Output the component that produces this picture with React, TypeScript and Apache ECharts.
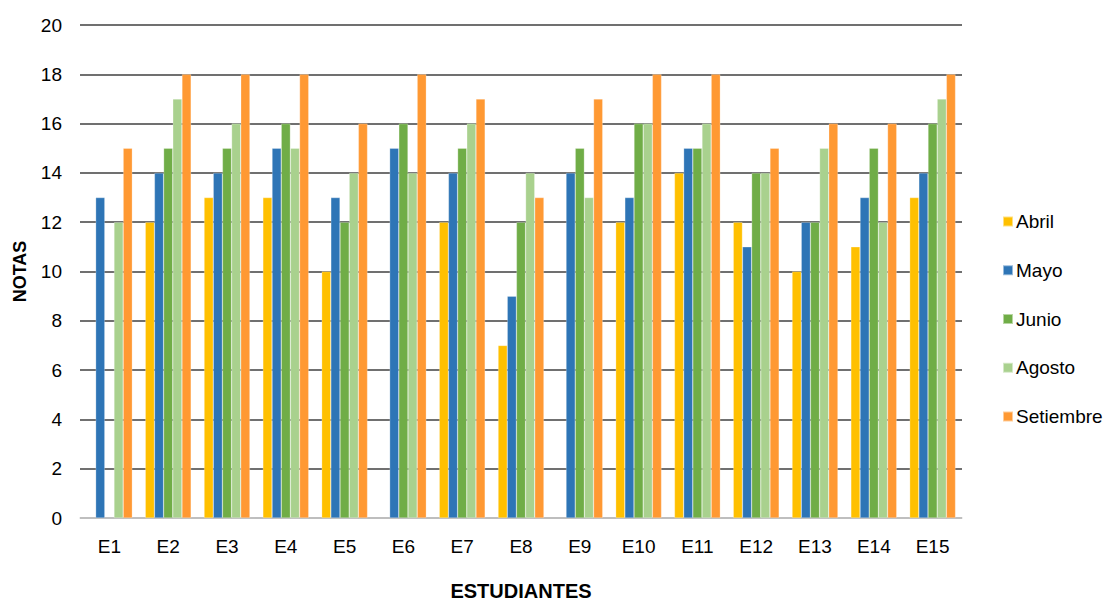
import React, { useEffect, useRef } from "react";
import * as echarts from "echarts";

const categories = ["E1", "E2", "E3", "E4", "E5", "E6", "E7", "E8", "E9", "E10", "E11", "E12", "E13", "E14", "E15"];
const abril = [null, 12, 13, 13, 10, null, 12, 7, null, 12, 14, 12, 10, 11, 13];
const mayo = [13, 14, 14, 15, 13, 15, 14, 9, 14, 13, 15, 11, 12, 13, 14];
const junio = [null, 15, 15, 16, 12, 16, 15, 12, 15, 16, 15, 14, 12, 15, 16];
const agosto = [12, 17, 16, 15, 14, 14, 16, 14, 13, 16, 16, 14, 15, 12, 17];
const setiembre = [15, 18, 18, 18, 16, 18, 17, 13, 17, 18, 18, 15, 16, 16, 18];
const seriesNames = ["Abril", "Mayo", "Junio", "Agosto", "Setiembre"];
const seriesColors = ["#FFC000", "#2E75B6", "#70AD47", "#A9D18E", "#FF9933"];

export default function App() {
  const ref = useRef<HTMLDivElement>(null);
  useEffect(() => {
    if (!ref.current) return;
    const chart = echarts.init(ref.current, undefined, { renderer: "svg" });
    const data = [abril, mayo, junio, agosto, setiembre];
    const font = "Liberation Sans, Arial, sans-serif";
    chart.setOption({
      animation: false,
      textStyle: { fontFamily: font },
      grid: { left: 80, right: 144, top: 25, bottom: 85, containLabel: false, outerBoundsMode: "none" },
      legend: {
        orient: "vertical",
        left: 997,
        top: 207,
        itemWidth: 10,
        itemHeight: 10,
        itemGap: 29.75,
        icon: "rect",
        textStyle: { fontSize: 19, color: "#000", fontFamily: font, padding: [0, 0, 0, -2] },
        data: seriesNames,
      },
      xAxis: {
        type: "category",
        data: categories,
        name: "ESTUDIANTES",
        nameLocation: "middle",
        nameGap: 63,
        nameTextStyle: { fontSize: 20, fontWeight: "bold", color: "#000", fontFamily: font },
        axisLine: { show: true, lineStyle: { color: "#d9d9d9", width: 1.5 } },
        axisTick: { show: false },
        axisLabel: { fontSize: 19, color: "#000", margin: 19, fontFamily: font },
      },
      yAxis: {
        type: "value",
        min: 0,
        max: 20,
        interval: 2,
        name: "NOTAS",
        nameLocation: "middle",
        nameGap: 51,
        nameRotate: 90,
        nameTextStyle: { fontSize: 18, fontWeight: "bold", color: "#000", fontFamily: font },
        axisLine: { show: false },
        axisTick: { show: false },
        axisLabel: { fontSize: 19, color: "#000", margin: 18, fontFamily: font },
        splitLine: { show: true, lineStyle: { color: "#404040", width: 1.5 } },
      },
      series: seriesNames.map((name, i) => ({
        name,
        type: "bar",
        data: data[i],
        barGap: "0%",
        barCategoryGap: "22%",
        itemStyle: { color: seriesColors[i], borderColor: "rgba(255,255,255,0.5)", borderWidth: 0.5 },
        z: 3,
      })),
    });
    return () => chart.dispose();
  }, []);
  return <div ref={ref} style={{ position: "absolute", left: 0, top: 0, width: 1106, height: 603 }} />;
}
